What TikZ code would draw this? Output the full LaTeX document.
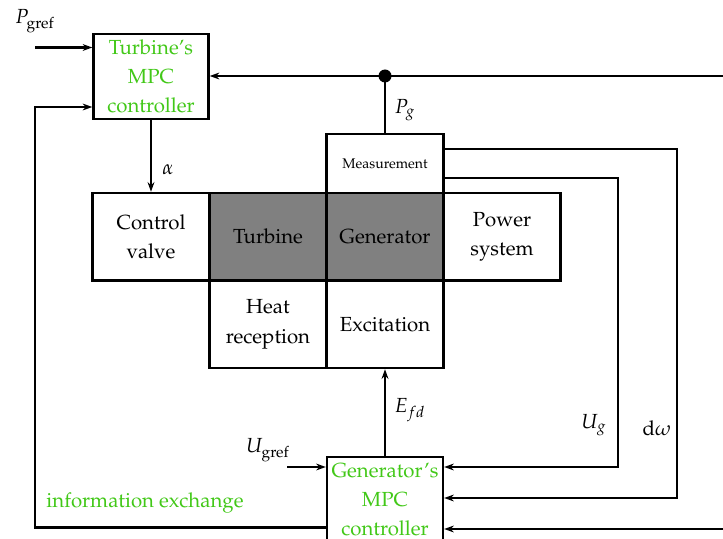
\documentclass[tikz,border=0pt]{standalone}
\usepackage{amsmath}
\usepackage[T1]{fontenc}
\usepackage{mathpazo}
\linespread{1.2}
\usetikzlibrary{arrows.meta}
\definecolor{mpcgreen}{RGB}{66,200,24}

\begin{document}
\begin{tikzpicture}[scale=0.17573, line width=1.2pt, >={Stealth[length=4.8pt,width=3.4pt]}]
\tikzstyle{every node}+=[inner sep=0pt, font={\fontsize{10.2}{12.1}\selectfont}]
\tikzstyle{block}=[draw, line width=1.2pt, align=center, minimum width=58.5pt, minimum height=43.75pt]
\tikzstyle{dark}=[block, fill=gray]
\tikzstyle{mpc}=[block, text=mpcgreen, minimum width=57.5pt, minimum height=42.5pt]
\path [use as bounding box, clip] (0,0) rectangle (72.3,-53.9);
\node [mpc] (tmpc) at (15.1,-7.65) {Turbine's\\MPC\\controller};
\node [block] (valve) at (15.1,-23.67) {Control\\valve};
\node [dark] (turb) at (26.8,-23.67) {Turbine};
\node [dark] (gen) at (38.5,-23.67) {Generator};
\node [block] (psys) at (50.2,-23.67) {Power\\system};
\node [block] (heat) at (26.8,-32.43) {Heat\\reception};
\node [block] (excit) at (38.5,-32.43) {Excitation};
\node [block, minimum height=29.5pt, font=\scriptsize] (meas) at (38.5,-16.35) {Measurement};
\node [mpc, minimum width=58pt, minimum height=43pt] (gmpc) at (38.5,-50) {Generator's\\MPC\\controller};
\coordinate (pgdot) at (38.5,-7.6);
\coordinate (topin) at (72.3,-7.6);
\coordinate (pgref) at (3.5,-4.75);
\coordinate (infoL) at (3.5,-52.75);
\coordinate (tmpcin) at (9.4,-10.7);
\coordinate (ugtop) at (61.8,-17.8);
\coordinate (ugin) at (44.4,-46.7);
\coordinate (dwtop) at (67.7,-14.9);
\coordinate (dwin) at (44.4,-49.8);
\coordinate (botin) at (72.3,-52.9);
\coordinate (ugref) at (28.7,-46.7);
\fill (pgdot) circle (0.65);
\draw (meas.north) -- (pgdot);
\draw [->] (topin) -- (tmpc.east |- pgdot);
\draw [->] (pgref) -- (pgref -| tmpc.west);
\draw [->] (gmpc.west |- infoL) -- (infoL) |- (tmpcin -| tmpc.west);
\draw [->] (tmpc.south) -- (valve.north);
\draw [->] (gmpc.north) -- (excit.south);
\draw [->] (meas.east |- ugtop) -- (ugtop) |- (gmpc.east |- ugin);
\draw [->] (meas.east |- dwtop) -- (dwtop) |- (gmpc.east |- dwin);
\draw [->] (botin) -- (botin -| gmpc.east);
\draw [->] (ugref) -- (ugref -| gmpc.west);
\node (pgreflab) at (3.5,-2.1) {$P_{\mathrm{gref}}$};
\node (pglab) at (40.5,-11) {$P_g$};
\node (alab) at (16.8,-17) {$\alpha$};
\node (efdlab) at (41,-41) {$E_{fd}$};
\node (uglab) at (59.4,-42.5) {$U_g$};
\node (dwlab) at (65.7,-42.8) {$\mathrm{d}\omega$};
\node (ugreflab) at (26.8,-45) {$U_{\mathrm{gref}}$};
\node [text=mpcgreen] (infolab) at (14.5,-50.3) {information exchange};
\end{tikzpicture}
\end{document}
